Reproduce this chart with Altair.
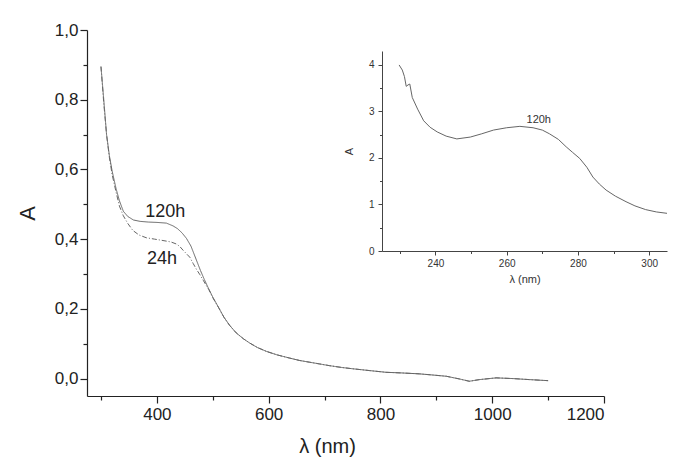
import altair as alt
import pandas as pd

# ---- main spectrum ----
nm_120 = [300, 305, 310, 315, 320, 327, 333, 340, 348, 358, 370, 385, 400, 417, 429, 437,
          445, 453, 461, 470, 478, 485, 492, 500, 510, 520, 530, 542, 555, 566, 580, 596,
          615, 637, 655, 673, 691, 709, 730, 751, 780, 810, 840, 870, 895, 918, 941, 959,
          977, 1007, 1037, 1067, 1100]
a_120 = [0.895, 0.80, 0.70, 0.64, 0.595, 0.545, 0.51, 0.48, 0.465, 0.455, 0.451, 0.449, 0.448,
         0.446, 0.438, 0.430, 0.418, 0.402, 0.380, 0.343, 0.310, 0.284, 0.260, 0.234, 0.205,
         0.176, 0.153, 0.131, 0.114, 0.102, 0.089, 0.078, 0.068, 0.059, 0.052, 0.047, 0.042,
         0.037, 0.032, 0.028, 0.023, 0.018, 0.016, 0.0135, 0.010, 0.0066, -0.001, -0.0077,
         -0.003, 0.002, 0.0, -0.003, -0.006]

nm_24 = [300, 305, 310, 315, 320, 327, 333, 340, 348, 357, 368, 381, 396, 411, 425, 435,
         441, 447, 453, 459, 465, 471, 477, 483, 488, 493, 500, 510, 520, 530, 542, 555,
         566, 580, 596, 615, 637, 655, 673, 691, 709, 730, 751, 780, 810, 840, 870, 895,
         918, 941, 959, 977, 1007, 1037, 1067, 1100]
a_24 = [0.895, 0.79, 0.70, 0.635, 0.585, 0.535, 0.495, 0.467, 0.445, 0.425, 0.412, 0.404,
        0.400, 0.396, 0.392, 0.386, 0.379, 0.368, 0.358, 0.348, 0.330, 0.313, 0.298, 0.282,
        0.268, 0.255, 0.232, 0.205, 0.176, 0.153, 0.131, 0.114, 0.102, 0.089, 0.078, 0.068,
        0.059, 0.052, 0.047, 0.042, 0.037, 0.032, 0.028, 0.023, 0.018, 0.016, 0.0135, 0.010,
        0.0066, -0.001, -0.0077, -0.003, 0.002, 0.0, -0.003, -0.006]

main_labels = ["120h", "24h"]
main_label_nm = [415, 409]
main_label_a = [0.478, 0.344]

main_x_major = [400, 600, 800, 1000, 1200]
main_x_minor = [300, 500, 700, 900, 1100]
main_y_major = [0.0, 0.2, 0.4, 0.6, 0.8, 1.0]
main_y_minor = [0.1, 0.3, 0.5, 0.7, 0.9]

# ---- inset spectrum ----
ins_nm = [229.8, 230.7, 231.3, 231.8, 232.3, 232.8, 233.5, 235, 236.7, 238.5, 240.5, 243,
          246, 249.8, 253, 256.3, 260, 263.7, 267.4, 270, 272, 274.5, 276.7, 278.5, 280.5,
          282.5, 284.2, 286, 287.9, 290.5, 293.5, 296, 299, 302, 305]
ins_a = [4.0, 3.89, 3.75, 3.54, 3.57, 3.59, 3.3, 3.05, 2.8, 2.66, 2.56, 2.47, 2.41, 2.45,
         2.52, 2.6, 2.65, 2.68, 2.65, 2.6, 2.52, 2.4, 2.24, 2.12, 1.99, 1.8, 1.59, 1.44,
         1.31, 1.18, 1.06, 0.97, 0.89, 0.84, 0.81]
ins_label = ["120h"]
ins_label_nm = [269]
ins_label_a = [2.82]
ins_x_major = [240, 260, 280, 300]
ins_x_minor = [230, 250, 270, 290]
ins_y_major = [0, 1, 2, 3, 4]
ins_y_minor = [0.5, 1.5, 2.5, 3.5]

FONT = "Liberation Sans"
W, H = 517, 366
INS_X = [295, 580]
INS_Y = [221, 21]
INS_COL = "#444"

df_main = pd.DataFrame({
    "nm": nm_120 + nm_24,
    "A": a_120 + a_24,
    "series": ["120h"] * len(nm_120) + ["24h"] * len(nm_24),
})
df_main_lab = pd.DataFrame({"nm": main_label_nm, "A": main_label_a, "t": main_labels})
df_ins = pd.DataFrame({"nm": ins_nm, "A": ins_a})
df_ins_lab = pd.DataFrame({"nm": ins_label_nm, "A": ins_label_a, "t": ins_label})


def xs_main():
    return alt.Scale(domain=[275, 1200], range=[0, W], nice=False, zero=False)


def ys_main():
    return alt.Scale(domain=[-0.05, 1.0], range=[H, 0], nice=False, zero=False)


def xs_ins():
    return alt.Scale(domain=[225, 305], range=INS_X, nice=False, zero=False)


def ys_ins():
    return alt.Scale(domain=[0, 4.3], range=INS_Y, nice=False, zero=False)


main_x_axis = alt.Axis(
    values=main_x_major, orient="bottom", tickSize=7, format="d",
    labelFontSize=17, labelPadding=3, title="λ (nm)", titleFontSize=20,
    titleFontWeight="normal", titleX=240, titleY=50, titleBaseline="middle",
)
main_y_axis = alt.Axis(
    values=main_y_major, orient="left", tickSize=7,
    labelExpr="replace(format(datum.value, '.1f'), '.', ',')",
    labelFontSize=17, labelPadding=2, title="A", titleFontSize=22,
    titleFontWeight="normal", titleX=-60, titleY=183, titleBaseline="middle", titleAngle=-90,
)
main_x_minor_axis = alt.Axis(values=main_x_minor, orient="bottom", tickSize=4,
                             labels=False, domain=False, title=None)
main_y_minor_axis = alt.Axis(values=main_y_minor, orient="left", tickSize=4,
                             labels=False, domain=False, title=None)

ins_x_axis = alt.Axis(
    values=ins_x_major, orient="bottom", offset=-(H - INS_Y[0]), tickSize=4, format="d",
    labelFontSize=10, labelPadding=3, title="λ (nm)", titleFontSize=11,
    titleFontWeight="normal", titlePadding=5,
    domainColor=INS_COL, tickColor=INS_COL, labelColor="#333", titleColor="#333",
    domainWidth=1, tickWidth=1,
)
ins_y_axis = alt.Axis(
    values=ins_y_major, orient="left", offset=-INS_X[0], tickSize=4, format="d",
    labelFontSize=10, labelPadding=4, title="A", titleFontSize=11,
    titleFontWeight="normal", titlePadding=14,
    domainColor=INS_COL, tickColor=INS_COL, labelColor="#333", titleColor="#333",
    domainWidth=1, tickWidth=1,
)
ins_x_minor_axis = alt.Axis(values=ins_x_minor, orient="bottom", offset=-(H - INS_Y[0]),
                            tickSize=2.5, labels=False, domain=False, title=None,
                            tickColor=INS_COL, tickWidth=1)
ins_y_minor_axis = alt.Axis(values=ins_y_minor, orient="left", offset=-INS_X[0],
                            tickSize=2.5, labels=False, domain=False, title=None,
                            tickColor=INS_COL, tickWidth=1)

main_lines = alt.Chart(df_main).mark_line(strokeWidth=1, color="#666").encode(
    x=alt.X("nm:Q", scale=xs_main(), axis=main_x_axis),
    y=alt.Y("A:Q", scale=ys_main(), axis=main_y_axis),
    strokeDash=alt.StrokeDash("series:N", legend=None,
                              scale=alt.Scale(domain=["120h", "24h"], range=[[1, 0], [5, 2, 1, 2]])),
    detail="series:N",
)
main_text = alt.Chart(df_main_lab).mark_text(font=FONT, fontSize=18, color="#222",
                                             align="center", baseline="middle").encode(
    x=alt.X("nm:Q", scale=xs_main(), axis=None),
    y=alt.Y("A:Q", scale=ys_main(), axis=None),
    text="t:N",
)
main_minor = alt.Chart(df_main).mark_point(opacity=0).encode(
    x=alt.X("nm:Q", scale=xs_main(), axis=main_x_minor_axis),
    y=alt.Y("A:Q", scale=ys_main(), axis=main_y_minor_axis),
)

ins_line = alt.Chart(df_ins).mark_line(strokeWidth=1, color="#666").encode(
    x=alt.X("nm:Q", scale=xs_ins(), axis=ins_x_axis),
    y=alt.Y("A:Q", scale=ys_ins(), axis=ins_y_axis),
)
ins_text = alt.Chart(df_ins_lab).mark_text(font=FONT, fontSize=11, color="#333",
                                           align="center", baseline="middle").encode(
    x=alt.X("nm:Q", scale=xs_ins(), axis=None),
    y=alt.Y("A:Q", scale=ys_ins(), axis=None),
    text="t:N",
)
ins_minor = alt.Chart(df_ins).mark_point(opacity=0).encode(
    x=alt.X("nm:Q", scale=xs_ins(), axis=ins_x_minor_axis),
    y=alt.Y("A:Q", scale=ys_ins(), axis=ins_y_minor_axis),
)

chart = alt.layer(
    main_lines, main_text, main_minor, ins_line, ins_text, ins_minor,
).resolve_scale(x="independent", y="independent").properties(
    width=W, height=H,
    autosize=alt.AutoSizeParams(type="none"),
    padding={"left": 79, "top": 22, "right": 70, "bottom": 70},
    background="white",
).configure_view(stroke=None).configure_axis(
    grid=False, domainColor="#222", tickColor="#222", labelColor="#222", titleColor="#222",
    labelFont=FONT, titleFont=FONT, domainWidth=1.2, tickWidth=1.2,
)

chart.save("out.html", embed_options={"renderer": "svg", "actions": False})
